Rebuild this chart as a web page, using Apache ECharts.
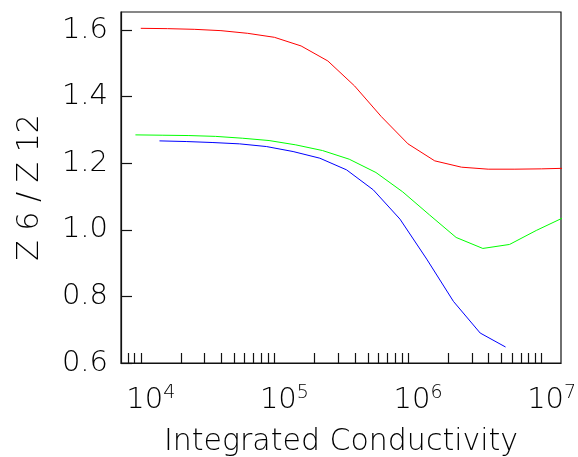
<!DOCTYPE html>
<html>
<head>
<meta charset="utf-8">
<script src="https://cdn.jsdelivr.net/npm/echarts@6/dist/echarts.min.js"></script>
<style>html,body{margin:0;padding:0;background:#fff}#c{width:578px;height:457px}</style>
</head>
<body>
<div id="c"></div>
<script>
// x values are log10(Integrated Conductivity)
var redLogX   = [4.0,4.2,4.4,4.6,4.8,5.0,5.2,5.4,5.6,5.8,6.0,6.2,6.4,6.6,6.8,7.0,7.2];
var redY      = [1.605,1.604,1.602,1.598,1.590,1.578,1.552,1.507,1.432,1.340,1.258,1.207,1.188,1.182,1.182,1.183,1.185];
var greenLogX = [3.96,4.16,4.36,4.56,4.76,4.96,5.16,5.36,5.56,5.76,5.96,6.16,6.36,6.56,6.76,6.96,7.16];
var greenY    = [1.285,1.284,1.283,1.2805,1.275,1.268,1.255,1.238,1.212,1.172,1.114,1.045,0.977,0.944,0.956,0.998,1.036];
var blueLogX  = [4.14,4.34,4.54,4.74,4.94,5.14,5.34,5.54,5.74,5.94,6.14,6.34,6.54,6.73];
var blueY     = [1.267,1.265,1.262,1.258,1.250,1.235,1.215,1.180,1.120,1.032,0.912,0.785,0.690,0.648];
var xDecades  = [4,5,6,7];
var yTicks    = [0.6,0.8,1.0,1.2,1.4,1.6];
var xTitle = 'Integrated Conductivity';
var yTitle = 'Z 6 / Z 12';

var FONT = 'DejaVu Sans';
var TXT = '#000';
var xMinLog = 3.852, xMaxLog = 7.145;

var minorTicks = [];
for (var d = 3; d <= 7; d++) {
  for (var k = 1; k <= 9; k++) {
    var v = d + Math.log10(k);
    if (v >= xMinLog && v <= xMaxLog) minorTicks.push(v);
  }
}
function pairs(xs, ys){ return xs.map(function(x,i){ return [x, ys[i]]; }); }

var chart = echarts.init(document.getElementById('c'), null, {renderer:'canvas'});
chart.setOption({
  animation:false,
  backgroundColor:'#fff',
  grid:{left:121,right:17,top:12,bottom:94,show:true,borderColor:'#111',borderWidth:1.2,backgroundColor:'transparent',outerBoundsMode:'none',containLabel:false},
  xAxis:{
    type:'value', min:xMinLog, max:xMaxLog,
    name:xTitle, nameLocation:'middle', nameGap:64,
    nameTextStyle:{fontFamily:FONT,fontSize:30,color:TXT,fontWeight:200},
    axisLine:{show:true,lineStyle:{color:'#111',width:1.2}},
    axisTick:{show:true,inside:true,length:10,customValues:minorTicks,lineStyle:{color:'#111',width:1.2}},
    splitLine:{show:false},
    axisLabel:{
      customValues:xDecades, margin:21, padding:[0,0,0,20],
      formatter:function(v){ return '{b|10}{s|' + Math.round(v) + '}'; },
      rich:{
        b:{fontFamily:FONT,fontSize:29,color:TXT,fontWeight:200,lineHeight:32},
        s:{fontFamily:FONT,fontSize:19,color:TXT,fontWeight:200,lineHeight:20,verticalAlign:'top'}
      }
    }
  },
  yAxis:{
    type:'value', min:0.6, max:1.654, interval:0.2,
    name:yTitle, nameLocation:'middle', nameGap:76, nameRotate:90,
    nameTextStyle:{fontFamily:FONT,fontSize:30,color:TXT,fontWeight:200},
    axisLine:{show:true,lineStyle:{color:'#111',width:1.2}},
    axisTick:{show:true,inside:true,length:11,lineStyle:{color:'#111',width:1.2}},
    splitLine:{show:false},
    axisLabel:{
      margin:13, fontFamily:FONT, fontSize:29, color:TXT, fontWeight:200,
      showMaxLabel:false,
      formatter:function(v){ return yTicks.some(function(t){return Math.abs(t-v)<1e-6;}) ? v.toFixed(1) : ''; }
    }
  },
  series:[
    {type:'line',data:pairs(redLogX,redY),showSymbol:false,lineStyle:{color:'#ff0000',width:1},itemStyle:{color:'#ff0000'},clip:true},
    {type:'line',data:pairs(greenLogX,greenY),showSymbol:false,lineStyle:{color:'#00ff00',width:1},itemStyle:{color:'#00ff00'},clip:true},
    {type:'line',data:pairs(blueLogX,blueY),showSymbol:false,lineStyle:{color:'#0000ff',width:1},itemStyle:{color:'#0000ff'},clip:true}
  ]
});
</script>
</body>
</html>
